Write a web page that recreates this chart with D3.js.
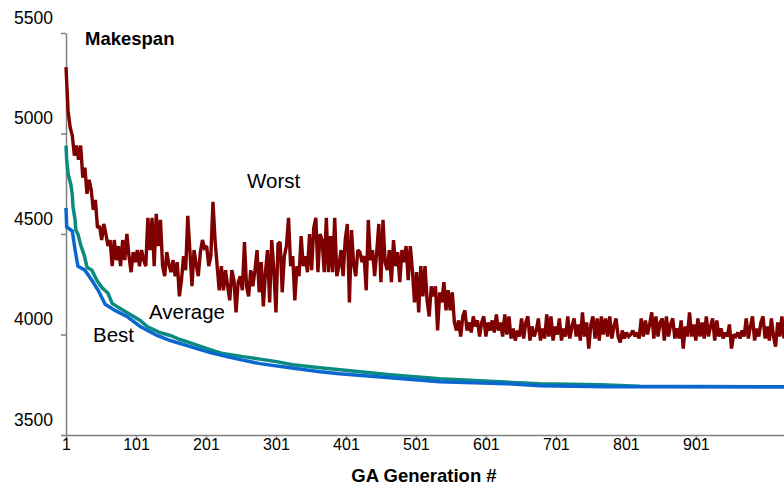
<!DOCTYPE html>
<html>
<head>
<meta charset="utf-8">
<script src="https://cdn.jsdelivr.net/npm/d3@7"></script>
<style>
  body { margin: 0; background: #fff; }
  text { font-family: "Liberation Sans", Arial, sans-serif; }
</style>
</head>
<body>
<script>
// ---- data ----
// Worst makespan, one value every 3 generations (1, 4, 7, ...)
const worstStep = 3;
const worst = [
  5330,5110,5030,4990,4890,4940,4870,4940,4780,4830,4700,4770,4720,4620,4670,4530,4540,4470,4550,4500,
  4440,4470,4340,4470,4370,4440,4340,4470,4370,4500,4390,4310,4410,4360,4420,4340,4420,4370,4340,4580,
  4420,4580,4340,4600,4440,4570,4340,4290,4410,4350,4310,4370,4290,4360,4190,4270,4390,4320,4590,4420,
  4240,4420,4350,4290,4410,4470,4430,4440,4340,4390,4660,4470,4340,4220,4340,4220,4320,4240,4170,4320,
  4270,4110,4260,4290,4220,4460,4240,4190,4320,4240,4320,4420,4210,4360,4140,4310,4420,4160,4470,4320,
  4110,4450,4460,4210,4390,4440,4580,4340,4390,4170,4340,4290,4490,4340,4390,4310,4500,4320,4530,4580,
  4310,4500,4470,4310,4580,4310,4490,4310,4580,4290,4340,4420,4290,4470,4550,4160,4520,4350,4290,4420,
  4410,4360,4390,4220,4570,4370,4420,4290,4410,4550,4260,4570,4360,4320,4420,4260,4470,4340,4410,4260,
  4420,4360,4440,4270,4440,4320,4160,4310,4110,4340,4190,4340,4170,4090,4240,4190,4240,4020,4210,4160,
  4260,4120,4220,4120,4210,4060,4020,4070,3990,4090,4120,4020,4060,4010,4090,4040,4070,3990,4060,4090,
  3990,4060,4020,4070,4010,4100,4020,4060,3990,4100,4000,4090,3980,4030,3970,4020,3990,4080,3980,4060,
  4090,3970,4040,3990,4020,4080,3970,4030,3980,4100,3990,4090,3970,4040,4000,4080,3970,4030,3990,4090,
  3980,4040,4080,3990,4050,3970,4110,3990,4060,3930,4050,4090,3980,4080,3970,4090,4000,4080,3990,4090,
  3980,4040,4080,3990,3960,4020,3980,4010,3990,4000,4020,3990,4010,3980,4080,3990,4070,4000,4050,4110,
  3980,4090,3990,4060,4080,3970,4090,3990,4050,4080,3980,4030,3980,4070,3930,4040,3990,4110,3990,4050,
  3970,4080,3990,4060,3980,4090,3990,4040,4080,3970,4070,3990,4030,3980,4010,3990,4050,3930,4000,3990,
  4010,3980,4020,3990,4080,3980,4040,4090,3970,4030,3990,4060,4090,3980,4040,3970,4080,3990,3940,4060,
  3990,4090,3980
];

// Average makespan at the generations where its slope changes
const avgGen = [1,2,4,8,10,11,14,15,18,22,27,31,38,45,52,61,67,78,88,107,117,135,150,164,182,207,225,254,302,325,364,407,464,535,621,678,764,821,1027];
const avgVal = [4940,4870,4800,4745,4695,4635,4570,4520,4500,4445,4395,4335,4320,4270,4235,4205,4155,4130,4110,4070,4040,4010,3995,3975,3955,3925,3905,3890,3865,3850,3835,3820,3800,3780,3765,3755,3750,3742,3740];

// Best makespan at the generations where it improves
const bestGen = [1,2,10,14,18,28,38,47,57,71,88,107,131,150,174,207,231,250,278,321,364,392,464,535,631,678,774,1027];
const bestVal = [4630,4535,4515,4420,4340,4320,4270,4220,4150,4120,4090,4040,3995,3970,3945,3910,3890,3875,3855,3835,3815,3805,3785,3765,3755,3745,3740,3740];

const yTicks = [3500, 4000, 4500, 5000, 5500];
const xTicks = [1, 101, 201, 301, 401, 501, 601, 701, 801, 901];

const width = 784, height = 487;

const svg = d3.select("body").append("svg")
  .attr("width", width)
  .attr("height", height);

const x = d3.scaleLinear().domain([1, 1027]).range([66, 784]);
const y = d3.scaleLinear().domain([3500, 5500]).range([435, 33]);

// axes
const yAxis = svg.append("g")
  .attr("transform", "translate(66,0)")
  .call(d3.axisLeft(y).tickValues(yTicks).tickSize(5).tickSizeOuter(0).tickFormat(d3.format("d")));
yAxis.selectAll("text")
  .attr("x", -13)
  .attr("dy", "-10px")
  .attr("font-size", "17.5px")
  .attr("fill", "#000");

const xAxis = svg.append("g")
  .attr("transform", "translate(0,435)")
  .call(d3.axisBottom(x).tickValues(xTicks).tickSize(5).tickSizeOuter(0).tickFormat(d3.format("d")));
xAxis.selectAll("text")
  .attr("y", 2)
  .attr("dy", "13px")
  .attr("font-size", "16px")
  .attr("fill", "#000");

svg.selectAll(".domain, .tick line")
  .attr("stroke", "#808080")
  .attr("stroke-width", 1.5);

// lines
const line = d3.line()
  .x(d => x(d[0]))
  .y(d => y(d[1]));

const worstPts = worst.map((v, i) => [1 + i * worstStep, v]);
const avgPts = avgGen.map((g, i) => [g, avgVal[i]]);
const bestPts = bestGen.map((g, i) => [g, bestVal[i]]);

svg.append("path")
  .datum(worstPts)
  .attr("fill", "none")
  .attr("stroke", "#7f0000")
  .attr("stroke-width", 3.4)
  .attr("stroke-linejoin", "miter")
  .attr("stroke-miterlimit", 2)
  .attr("d", line);

svg.append("path")
  .datum(avgPts)
  .attr("fill", "none")
  .attr("stroke", "#0b8a80")
  .attr("stroke-width", 3.5)
  .attr("d", line);

svg.append("path")
  .datum(bestPts)
  .attr("fill", "none")
  .attr("stroke", "#0a66d0")
  .attr("stroke-width", 3.5)
  .attr("d", line);

// labels
svg.append("text")
  .attr("x", 85).attr("y", 45)
  .attr("font-size", "18.5px")
  .attr("font-weight", "bold")
  .text("Makespan");

svg.append("text")
  .attr("x", 424).attr("y", 482)
  .attr("text-anchor", "middle")
  .attr("font-size", "18.5px")
  .attr("font-weight", "bold")
  .text("GA Generation #");

svg.append("text").attr("x", 247).attr("y", 188).attr("font-size", "20.5px").text("Worst");
svg.append("text").attr("x", 149).attr("y", 319).attr("font-size", "20.5px").text("Average");
svg.append("text").attr("x", 93).attr("y", 342).attr("font-size", "20.5px").text("Best");
</script>
</body>
</html>
